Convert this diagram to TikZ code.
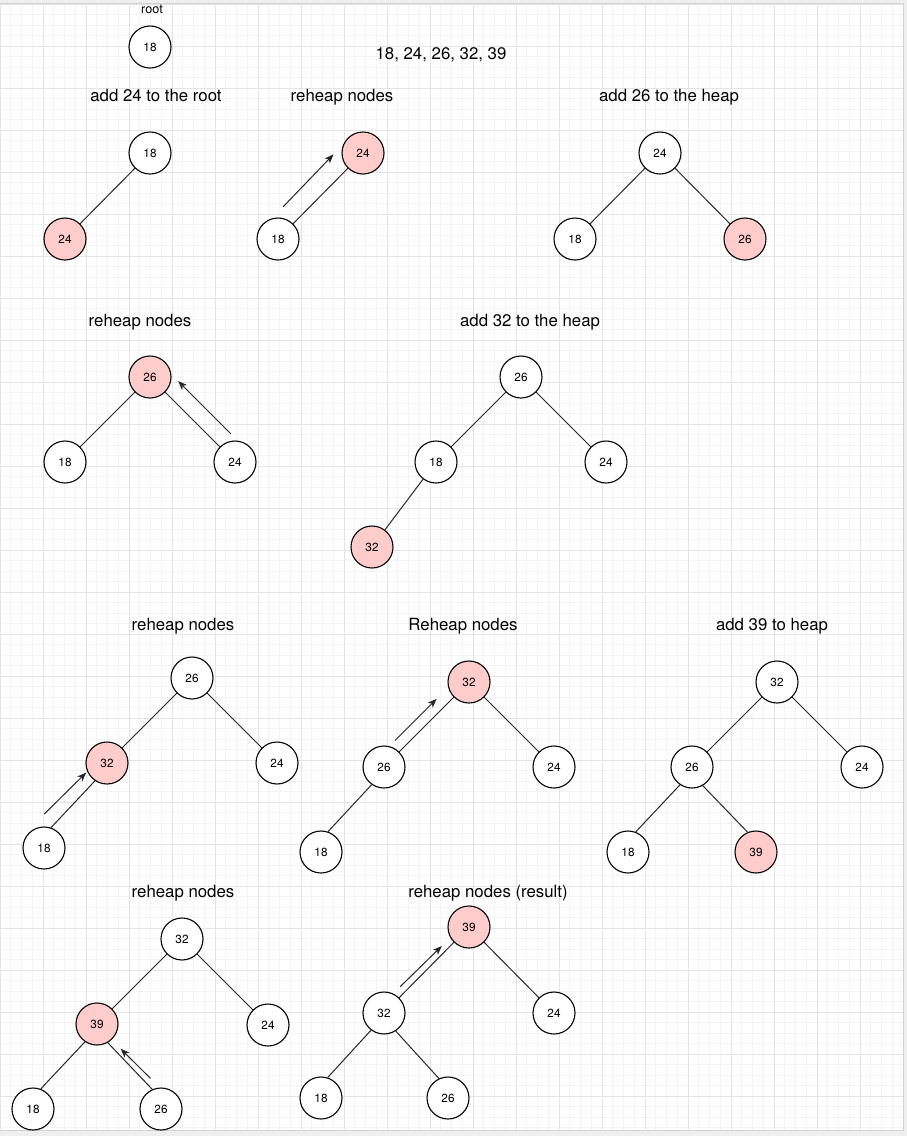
\documentclass[tikz,border=0pt]{standalone}
\usepackage{fontspec}
\setmainfont{TeX Gyre Heros}
\usepackage{xcolor}
\usepackage{tikz}
\usetikzlibrary{arrows.meta,calc}

\definecolor{newpink}{HTML}{FFCCCC}
\definecolor{gridmajor}{HTML}{E4E4E4}
\definecolor{gridminor}{HTML}{F4F4F4}
\definecolor{outside}{HTML}{EFEFEF}

\tikzset{
  heapnode/.style={circle, draw, fill=white, line width=1.1pt, minimum size=42pt, inner sep=0pt, font=\fontsize{11.8}{13}\selectfont},
  newnode/.style={heapnode, fill=newpink},
  title/.style={font=\fontsize{16.8}{20}\selectfont, text height=12.2pt, text depth=3.6pt},
  edge/.style={line width=1pt, draw=black!85},
  reheap/.style={-{Stealth[length=9pt,width=7pt,inset=2.5pt]}, line width=1pt, draw=black!85}
}

\begin{document}
\begin{tikzpicture}[x=1pt, y=-1pt]
\useasboundingbox (0,0) rectangle (907,1136);
\fill[outside] (0,0) rectangle (907,1136);
\fill[white] (0,3) rectangle (903,1130);
\foreach \gx in {0,10.75,...,903} \draw[gridminor, line width=1pt] (\gx,3) -- (\gx,1130);
\foreach \gy in {4,14.5,...,1130} \draw[gridminor, line width=1pt] (0,\gy) -- (903,\gy);
\foreach \gx in {0,43,...,903} \draw[gridmajor, line width=1pt] (\gx,3) -- (\gx,1130);
\foreach \gy in {4,46,...,1130} \draw[gridmajor, line width=1pt] (0,\gy) -- (903,\gy);
\draw[gray!35, line width=1pt] (0,3) -- (903,3) -- (903,1130) -- (0,1130);

\node[font=\fontsize{12.6}{14}\selectfont] (rootlbl) at (152,9) {root};
\node[heapnode] (r18) at (150,47) {18};
\node[title] (order) at (441,55) {18, 24, 26, 32, 39};

\node[title] (tA) at (156,96.7) {add 24 to the root};
\node[heapnode] (A18) at (150,153) {18};
\node[newnode] (A24) at (65,239) {24};
\draw[edge] (A18) -- (A24);

\node[title] (tB) at (342,96.7) {reheap nodes};
\node[newnode] (B24) at (363,153) {24};
\node[heapnode] (B18) at (278,239) {18};
\draw[edge] (B24) -- (B18);
\draw[reheap] ($(B18)!0.22!(B24)!19pt!90:(B24)$) -- ($(B18)!0.82!(B24)!20pt!90:(B24)$);

\node[title] (tC) at (669,96.7) {add 26 to the heap};
\node[heapnode] (C24) at (660,153) {24};
\node[heapnode] (C18) at (575,239) {18};
\node[newnode] (C26) at (745,239) {26};
\draw[edge] (C24) -- (C18);
\draw[edge] (C24) -- (C26);

\node[title] (tD) at (140,321.7) {reheap nodes};
\node[newnode] (D26) at (150,377) {26};
\node[heapnode] (D18) at (65,462) {18};
\node[heapnode] (D24) at (235,462) {24};
\draw[edge] (D26) -- (D18);
\draw[edge] (D26) -- (D24);
\draw[reheap] ($(D24)!0.19!(D26)!17pt!-90:(D26)$) -- ($(D24)!0.81!(D26)!17pt!-90:(D26)$);

\node[title] (tE) at (530,321.7) {add 32 to the heap};
\node[heapnode] (E26) at (521,377) {26};
\node[heapnode] (E18) at (436,462) {18};
\node[heapnode] (E24) at (606,462) {24};
\node[newnode] (E32) at (372,547) {32};
\draw[edge] (E26) -- (E18);
\draw[edge] (E26) -- (E24);
\draw[edge] (E18) -- (E32);

\node[title] (tF) at (183,625.7) {reheap nodes};
\node[heapnode] (F26) at (192,678) {26};
\node[newnode] (F32) at (107,763) {32};
\node[heapnode] (F24) at (277,763) {24};
\node[heapnode] (F18) at (44,848) {18};
\draw[edge] (F26) -- (F32);
\draw[edge] (F26) -- (F24);
\draw[edge] (F32.236) -- (F18.71);
\draw[reheap] ($(F18)!0.26!(F32)!20pt!90:(F32)$) -- ($(F18)!0.81!(F32)!11pt!90:(F32)$);

\node[title] (tG) at (463,625.7) {Reheap nodes};
\node[newnode] (G32) at (469,682) {32};
\node[heapnode] (G26) at (384,767) {26};
\node[heapnode] (G24) at (554,767) {24};
\node[heapnode] (G18) at (321,852) {18};
\draw[edge] (G32) -- (G26);
\draw[edge] (G32) -- (G24);
\draw[edge] (G26.235) -- (G18.71);
\draw[reheap] ($(G26)!0.22!(G32)!11pt!90:(G32)$) -- ($(G26)!0.71!(G32)!11pt!90:(G32)$);

\node[title] (tH) at (772,625.7) {add 39 to heap};
\node[heapnode] (H32) at (777,682) {32};
\node[heapnode] (H26) at (692,767) {26};
\node[heapnode] (H24) at (862,767) {24};
\node[heapnode] (H18) at (628,852) {18};
\node[newnode] (H39) at (756,852) {39};
\draw[edge] (H32) -- (H26);
\draw[edge] (H32) -- (H24);
\draw[edge] (H26.236) -- (H18.69);
\draw[edge] (H26.300) -- (H39.113);

\node[title] (tI) at (183,892.7) {reheap nodes};
\node[heapnode] (I32) at (182,939) {32};
\node[newnode] (I39) at (97,1024) {39};
\node[heapnode] (I24) at (268,1025) {24};
\node[heapnode] (I18) at (33,1109) {18};
\node[heapnode] (I26) at (161,1109) {26};
\draw[edge] (I32) -- (I39);
\draw[edge] (I32) -- (I24);
\draw[edge] (I39.236) -- (I18.69);
\draw[edge] (I39.300) -- (I26.114);
\draw[reheap] ($(I26)!0.29!(I39)!10pt!-90:(I39)$) -- ($(I26)!0.68!(I39)!4pt!-90:(I39)$);

\node[title] (tJ) at (488,892.7) {reheap nodes (result)};
\node[newnode] (J39) at (469,927) {39};
\node[heapnode] (J32) at (384,1013) {32};
\node[heapnode] (J24) at (554,1013) {24};
\node[heapnode] (J18) at (321,1098) {18};
\node[heapnode] (J26) at (448,1098) {26};
\draw[edge] (J39) -- (J32);
\draw[edge] (J39) -- (J24);
\draw[edge] (J32.233) -- (J18.72);
\draw[edge] (J32.303) -- (J26.115);
\draw[reheap] ($(J32)!0.25!(J39)!7pt!90:(J39)$) -- ($(J32)!0.73!(J39)!6pt!90:(J39)$);
\end{tikzpicture}
\end{document}
